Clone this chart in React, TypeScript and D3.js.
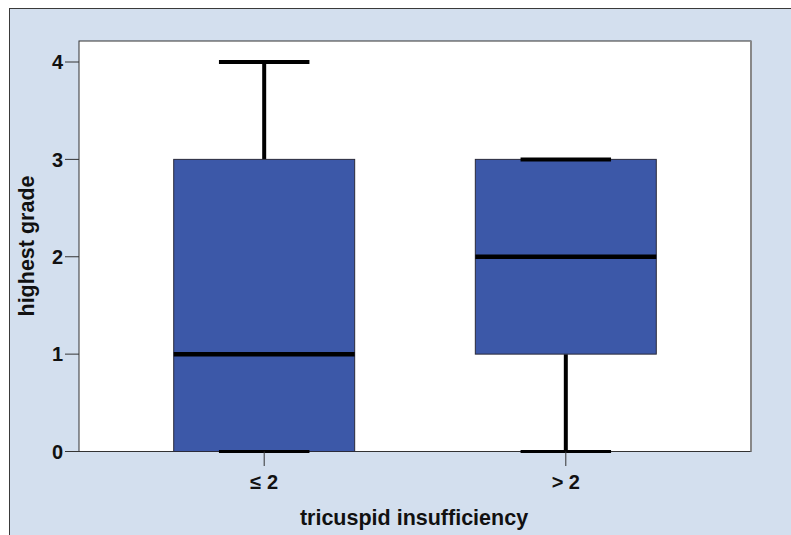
import React from 'react';
import * as d3 from 'd3';

// box plot summary
const categories = ['≤ 2', '> 2'];
const mins = [0, 0];
const q1s = [0, 1];
const medians = [1, 2];
const q3s = [3, 3];
const maxs = [4, 3];
const yTicks = [0, 1, 2, 3, 4];

const W = 791;
const H = 535;

export default function App() {
  const left = 79, right = 751, top = 41, bottom = 451.5;

  const x = d3.scalePoint<string>()
    .domain(categories)
    .range([left, right])
    .padding(0.614);
  const step = x.step();
  const boxW = step * 0.6;
  const capW = boxW / 2;

  const y = d3.scaleLinear().domain([0, 4]).range([bottom, 62]);

  const bold = { fontFamily: 'Liberation Sans, Arial, sans-serif', fontWeight: 700 as const };

  return (
    <svg width={W} height={H} style={{ position: 'absolute', left: 0, top: 0, display: 'block' }}>
      {/* outer frame */}
      <rect x={0} y={0} width={W} height={H} fill="#fff" />
      <rect x={9.5} y={8.5} width={W + 10} height={H + 10} fill="#D3DFEE" stroke="#3a3a3a" strokeWidth={1} />

      {/* plot area */}
      <rect x={left} y={top} width={right - left} height={bottom - top} fill="#fff" stroke="#333" strokeWidth={1} />
      <line x1={right} x2={right} y1={top} y2={bottom} stroke="#888" strokeWidth={2} />

      {/* y axis ticks */}
      {yTicks.map(t => (
        <g key={t}>
          <line x1={65} x2={left} y1={y(t)} y2={y(t)} stroke="#333" strokeWidth={1} />
          <text x={63} y={y(t)} dy="0.36em" textAnchor="end" fontSize={20} {...bold} fill="#111">{t}</text>
        </g>
      ))}

      {/* boxes */}
      {categories.map((c, i) => {
        const cx = x(c) as number;
        return (
          <g key={c}>
            {maxs[i] > q3s[i] && (
              <line x1={cx} x2={cx} y1={y(maxs[i])} y2={y(q3s[i])} stroke="#000" strokeWidth={4} />
            )}
            {mins[i] < q1s[i] && (
              <line x1={cx} x2={cx} y1={y(q1s[i])} y2={y(mins[i])} stroke="#000" strokeWidth={4} />
            )}
            <rect
              x={cx - boxW / 2}
              y={y(q3s[i])}
              width={boxW}
              height={y(q1s[i]) - y(q3s[i])}
              fill="#3C58A8"
              stroke="#2a2a3a"
              strokeWidth={1}
            />
            <line x1={cx - capW / 2} x2={cx + capW / 2} y1={y(maxs[i])} y2={y(maxs[i])} stroke="#000" strokeWidth={4} />
            <line x1={cx - capW / 2} x2={cx + capW / 2} y1={y(mins[i])} y2={y(mins[i])} stroke="#000" strokeWidth={3} />
            <line x1={cx - boxW / 2} x2={cx + boxW / 2} y1={y(medians[i])} y2={y(medians[i])} stroke="#000" strokeWidth={4.5} />
            <line x1={cx} x2={cx} y1={bottom} y2={466} stroke="#333" strokeWidth={1} />
            <text x={cx} y={489} textAnchor="middle" fontSize={20} {...bold} fill="#111">{c}</text>
          </g>
        );
      })}

      {/* axis titles */}
      <text x={414} y={525} textAnchor="middle" fontSize={21.5} {...bold} fill="#111">tricuspid insufficiency</text>
      <text transform={`translate(34,${246}) rotate(-90)`} textAnchor="middle" fontSize={21.5} {...bold} fill="#111">highest grade</text>
    </svg>
  );
}
